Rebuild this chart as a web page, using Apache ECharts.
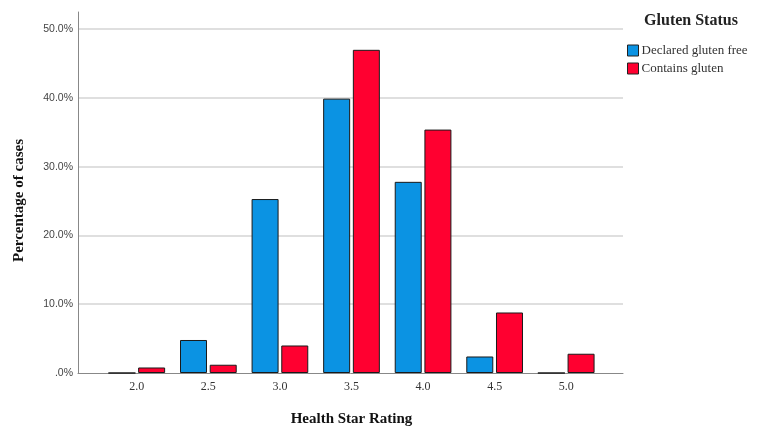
<!DOCTYPE html>
<html>
<head>
<meta charset="utf-8">
<script src="https://cdn.jsdelivr.net/npm/echarts@6/dist/echarts.min.js"></script>
<style>html,body{margin:0;padding:0;background:#fff}#c{width:762px;height:439px}</style>
</head>
<body>
<div id="c"></div>
<script>
const categories = ['2.0', '2.5', '3.0', '3.5', '4.0', '4.5', '5.0'];
const glutenFree = [0, 4.8, 25.3, 39.9, 27.8, 2.4, 0];
const containsGluten = [0.8, 1.2, 4.0, 47.0, 35.4, 8.8, 2.8];
const seriesNames = ['Declared gluten free', 'Contains gluten'];
const yTicks = [0, 10, 20, 30, 40, 50];

const serif = '"Liberation Serif", "DejaVu Serif", serif';
const chart = echarts.init(document.getElementById('c'), null, {renderer: 'canvas'});
const yMax = 52.5;
chart.setOption({
  backgroundColor: '#fff',
  animation: false,
  title: {
    text: 'Gluten Status', left: 686, top: 8, textAlign: 'center',
    textStyle: {fontFamily: serif, fontWeight: 'bold', fontSize: 16, color: '#222'}
  },
  legend: {
    orient: 'vertical', left: 622, top: 39, itemWidth: 11, itemHeight: 11, itemGap: 5,
    icon: 'rect', itemStyle: {borderColor: '#222', borderWidth: 1},
    textStyle: {fontFamily: serif, fontSize: 13, color: '#333', padding: [0, 0, 0, -2]},
    data: seriesNames
  },
  grid: [
    {left: 78, right: 139, top: 12, bottom: 66},
    {left: 101, right: 160, top: 12, bottom: 66}
  ],
  xAxis: [
    {type: 'value', gridIndex: 0, min: 0, max: 1, axisLine: {show: true, lineStyle: {color: '#888', width: 1}},
     axisTick: {show: false}, axisLabel: {show: false}, splitLine: {show: false}},
    {type: 'category', gridIndex: 1, data: categories, axisLine: {show: false}, axisTick: {show: false},
     axisLabel: {fontFamily: serif, fontSize: 12, color: '#333', margin: 8},
     name: 'Health Star Rating', nameLocation: 'middle', nameGap: 39,
     nameTextStyle: {fontFamily: serif, fontWeight: 'bold', fontSize: 15, color: '#111'}}
  ],
  yAxis: [
    {type: 'value', gridIndex: 0, min: 0, max: yMax, interval: 10,
     axisLine: {show: true, lineStyle: {color: '#888', width: 1}}, axisTick: {show: false},
     axisLabel: {fontFamily: '"Liberation Sans", Arial, sans-serif', fontSize: 10.5, color: '#444', margin: 5, showMaxLabel: false,
       formatter: v => yTicks.includes(v) ? (v === 0 ? '.0%' : v.toFixed(1) + '%') : ''},
     splitLine: {show: true, showMaxLine: false, showMinLine: false, lineStyle: {color: '#d4d4d4', width: 1.5}},
     name: 'Percentage of cases', nameLocation: 'middle', nameGap: 51, nameRotate: 90,
     nameTextStyle: {fontFamily: serif, fontWeight: 'bold', fontSize: 15, color: '#111', padding: [0, 0, 0, -16]}},
    {type: 'value', gridIndex: 1, min: 0, max: yMax, show: false, splitLine: {show: false}}
  ],
  series: [
    {name: seriesNames[0], type: 'bar', xAxisIndex: 1, yAxisIndex: 1, data: glutenFree,
     barWidth: 27, barGap: '10%', itemStyle: {color: '#0b93e3', borderColor: '#1a1a1a', borderWidth: 1}},
    {name: seriesNames[1], type: 'bar', xAxisIndex: 1, yAxisIndex: 1, data: containsGluten,
     barWidth: 27, barGap: '10%', itemStyle: {color: '#ff0030', borderColor: '#1a1a1a', borderWidth: 1}}
  ]
});
</script>
</body>
</html>
